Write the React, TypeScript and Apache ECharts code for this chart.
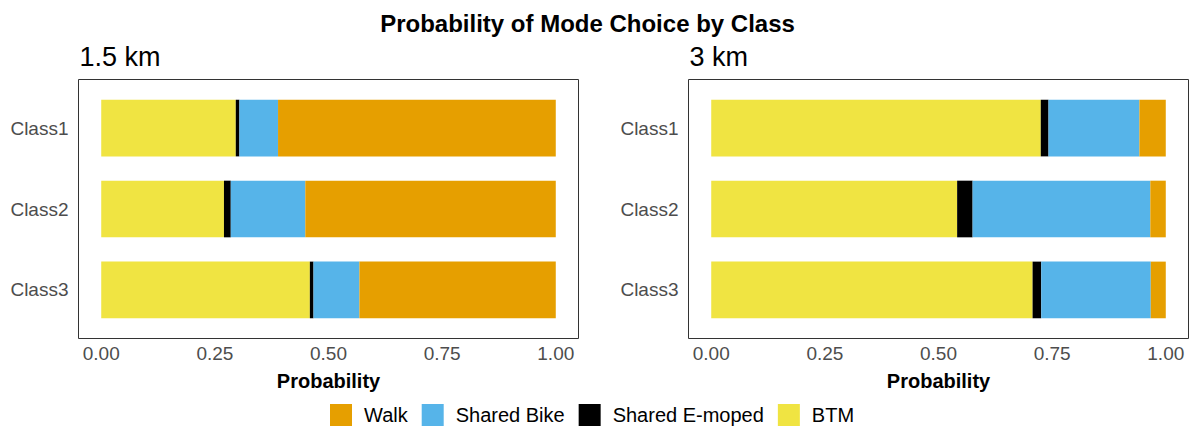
import React, { useEffect, useRef } from "react";
import * as echarts from "echarts";

const classes = ["Class1", "Class2", "Class3"];
const modes = ["Walk", "Shared Bike", "Shared E-moped", "BTM"];
const btm15 = [0.296, 0.27, 0.459];
const moped15 = [0.008, 0.015, 0.008];
const bike15 = [0.085, 0.164, 0.101];
const walk15 = [0.611, 0.551, 0.432];
const btm3 = [0.725, 0.541, 0.707];
const moped3 = [0.017, 0.034, 0.019];
const bike3 = [0.2, 0.391, 0.241];
const walk3 = [0.058, 0.034, 0.033];
const xTicks = [0, 0.25, 0.5, 0.75, 1];
const panelTitles = ["1.5 km", "3 km"];

const colors: Record<string, string> = {
  Walk: "#E69F00",
  "Shared Bike": "#56B4E9",
  "Shared E-moped": "#000000",
  BTM: "#F0E442",
};

const FONT = "'Liberation Sans', Arial, sans-serif";

export default function App() {
  const ref = useRef<HTMLDivElement>(null);
  useEffect(() => {
    document.body.style.margin = "0";
    const chart = echarts.init(ref.current!, null, { renderer: "svg" });
    const frames = [
      { x: 78.5, y: 79.5 },
      { x: 688.5, y: 79.5 },
    ];
    const panelW = 500;
    const panelH = 259;
    const unit = panelH / 3.2;
    const grids = frames.map((f) => ({
      left: f.x,
      top: f.y + 0.1 * unit,
      width: panelW,
      height: 3 * unit,
    }));
    const panelData = [
      { btm: btm15, moped: moped15, bike: bike15, walk: walk15 },
      { btm: btm3, moped: moped3, bike: bike3, walk: walk3 },
    ];
    const series: any[] = [];
    panelData.forEach((p, i) => {
      const order: [string, number[]][] = [
        ["BTM", p.btm],
        ["Shared E-moped", p.moped],
        ["Shared Bike", p.bike],
        ["Walk", p.walk],
      ];
      order.forEach(([name, vals]) => {
        series.push({
          type: "bar",
          name,
          xAxisIndex: i,
          yAxisIndex: i,
          stack: "s" + i,
          barWidth: 0.7 * unit,
          data: vals,
          itemStyle: { color: colors[name] },
          emphasis: { disabled: true },
        });
      });
    });
    const option: any = {
      animation: false,
      textStyle: { fontFamily: FONT },
      grid: grids,
      xAxis: grids.map((_, i) => ({
        type: "value",
        gridIndex: i,
        min: -0.05,
        max: 1.05,
        axisLine: { show: false },
        axisTick: { show: false },
        splitLine: { show: false },
        axisLabel: {
          customValues: xTicks,
          formatter: (v: number) => v.toFixed(2),
          fontSize: 19,
          color: "#4D4D4D",
          margin: 14,
          fontFamily: FONT,
        },
        name: "Probability",
        nameLocation: "middle",
        nameGap: 41,
        nameTextStyle: {
          fontSize: 20,
          fontWeight: "bold",
          color: "#000",
          fontFamily: FONT,
        },
      })),
      yAxis: grids.map((_, i) => ({
        type: "category",
        gridIndex: i,
        data: classes,
        inverse: true,
        axisLine: { show: false },
        axisTick: { show: false },
        splitLine: { show: false },
        axisLabel: {
          fontSize: 19,
          color: "#4D4D4D",
          margin: 10,
          fontFamily: FONT,
        },
      })),
      legend: {
        data: modes,
        left: 330,
        top: 404,
        itemWidth: 22,
        itemHeight: 22,
        itemGap: 14,
        icon: "rect",
        padding: 0,
        selectedMode: false,
        textStyle: {
          fontSize: 20,
          color: "#000",
          fontFamily: FONT,
          padding: [0, 0, 0, 7],
        },
      },
      graphic: [
        ...frames.map((f) => ({
          type: "rect",
          shape: { x: f.x, y: f.y, width: panelW, height: panelH },
          style: { fill: "none", stroke: "#333333", lineWidth: 1 },
          silent: true,
          z: 10,
        })),
        {
          type: "text",
          x: 587.5,
          y: 23,
          style: {
            text: "Probability of Mode Choice by Class",
            fontSize: 24,
            fontWeight: "bold",
            fill: "#000",
            fontFamily: FONT,
            align: "center",
            verticalAlign: "middle",
          },
        },
        ...frames.map((f, i) => ({
          type: "text",
          x: f.x + 1,
          y: 57,
          style: {
            text: panelTitles[i],
            fontSize: 27,
            fill: "#000",
            fontFamily: FONT,
            align: "left",
            verticalAlign: "middle",
          },
        })),
      ],
      series,
    };
    chart.setOption(option);
    return () => chart.dispose();
  }, []);
  return (
    <div
      ref={ref}
      style={{ width: 1193, height: 431, position: "absolute", left: 0, top: 0 }}
    />
  );
}
